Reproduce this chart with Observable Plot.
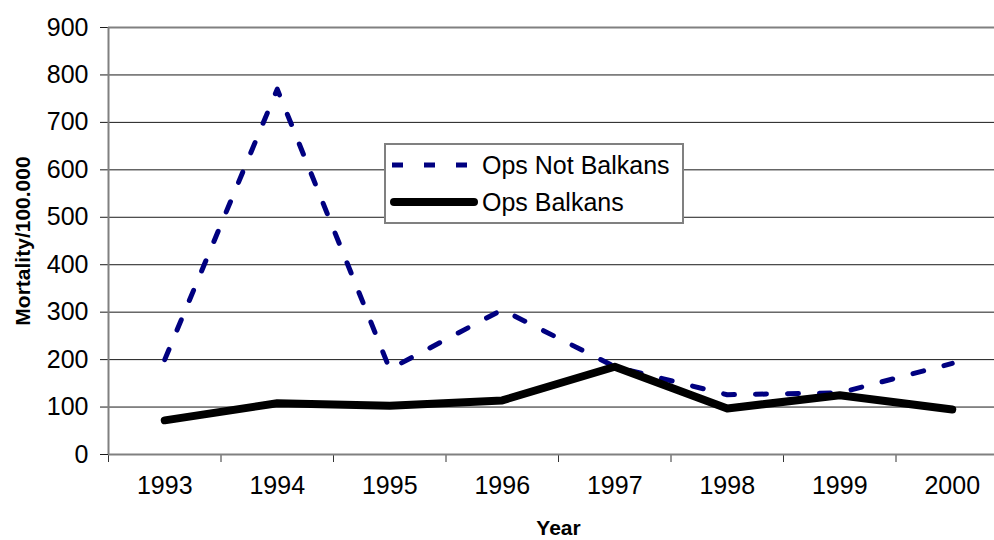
<!DOCTYPE html>
<html>
<head>
<meta charset="utf-8">
<script src="https://cdn.jsdelivr.net/npm/d3@7"></script>
<script src="https://cdn.jsdelivr.net/npm/@observablehq/plot@0.6"></script>
<style>
  html, body { margin: 0; padding: 0; background: #fff; }
  body { width: 994px; height: 540px; overflow: hidden; position: relative; font-family: "Liberation Sans", Arial, sans-serif; }
  #chart { position: absolute; left: 0; top: 0; width: 1010px; }
  #chart svg { max-width: none !important; }
  #legend { position: absolute; left: 384px; top: 143px; width: 296px; height: 77px; border: 2px solid #808080; background: #fff; box-sizing: content-box; }
  #legend .row { position: absolute; left: 0; height: 30px; display: flex; align-items: center; }
  #legend .row span { font-size: 25px; color: #000; margin-left: 4px; }
</style>
</head>
<body>
<div id="chart"></div>
<div id="legend"></div>
<script>
const years = [1993, 1994, 1995, 1996, 1997, 1998, 1999, 2000];
const opsNotBalkans = [200, 770, 180, 305, 185, 126, 130, 192];
const opsBalkans = [72, 108, 103, 114, 185, 97, 125, 95];
const yTicks = [0, 100, 200, 300, 400, 500, 600, 700, 800, 900];
const seriesNames = ["Ops Not Balkans", "Ops Balkans"];

const bounds = years.map(y => y - 0.5).concat([years[years.length - 1] + 0.5]);
const dataNot = years.map((y, i) => ({year: y, value: opsNotBalkans[i]}));
const dataBal = years.map((y, i) => ({year: y, value: opsBalkans[i]}));

const chart = Plot.plot({
  width: 1010,
  height: 540,
  marginLeft: 108,
  marginTop: 27,
  marginBottom: 86,
  marginRight: 2,
  style: {fontFamily: "'Liberation Sans', Arial, sans-serif", color: "#000", background: "transparent", maxWidth: "none"},
  x: {domain: [bounds[0], bounds[bounds.length - 1]]},
  y: {domain: [yTicks[0], yTicks[yTicks.length - 1]]},
  marks: [
    Plot.gridY(yTicks.slice(1, -1), {stroke: "#1a1a1a", strokeOpacity: 1, strokeWidth: 1}),
    Plot.ruleY([yTicks[yTicks.length - 1]], {stroke: "#808080", strokeWidth: 2}),
    Plot.axisY(yTicks, {tickSize: 8, tickPadding: 12, fontSize: 25, label: null, stroke: "#1a1a1a"}),
    Plot.axisX(years, {tickSize: 0, tickPadding: 22, fontSize: 25, label: null, tickFormat: d => String(d)}),
    Plot.axisX(bounds, {tickSize: 8, tickFormat: () => "", label: null, stroke: "#333"}),
    Plot.ruleY([yTicks[0]], {stroke: "#808080", strokeWidth: 2}),
    Plot.ruleX([bounds[0]], {stroke: "#808080", strokeWidth: 2}),
    Plot.line(dataNot, {x: "year", y: "value", stroke: "#000080", strokeWidth: 5, strokeDasharray: "11,21"}),
    Plot.line(dataBal, {x: "year", y: "value", stroke: "#000", strokeWidth: 8, strokeLinecap: "round", strokeLinejoin: "round"}),
    Plot.text(["Mortality/100.000"], {frameAnchor: "left", textAnchor: "middle", dx: -85, rotate: -90, fontWeight: "bold", fontSize: 21}),
    Plot.text(["Year"], {frameAnchor: "bottom", dy: 80, fontWeight: "bold", fontSize: 21})
  ]
});
document.getElementById("chart").appendChild(chart);

// Legend
const legend = document.getElementById("legend");
const styles = [
  {stroke: "#000080", width: 5, dash: "11,21", cap: "butt", top: 5},
  {stroke: "#000", width: 8, dash: null, cap: "round", top: 42}
];
seriesNames.forEach((name, i) => {
  const s = styles[i];
  const row = document.createElement("div");
  row.className = "row";
  row.style.top = s.top + "px";
  const ns = "http://www.w3.org/2000/svg";
  const svg = document.createElementNS(ns, "svg");
  svg.setAttribute("width", 92);
  svg.setAttribute("height", 30);
  const line = document.createElementNS(ns, "line");
  line.setAttribute("x1", i === 0 ? 6 : 8);
  line.setAttribute("x2", i === 0 ? 84 : 88);
  line.setAttribute("y1", 15);
  line.setAttribute("y2", 15);
  line.setAttribute("stroke", s.stroke);
  line.setAttribute("stroke-width", s.width);
  line.setAttribute("stroke-linecap", s.cap);
  if (s.dash) line.setAttribute("stroke-dasharray", s.dash);
  svg.appendChild(line);
  row.appendChild(svg);
  const t = document.createElement("span");
  t.textContent = name;
  row.appendChild(t);
  legend.appendChild(row);
});
</script>
</body>
</html>
